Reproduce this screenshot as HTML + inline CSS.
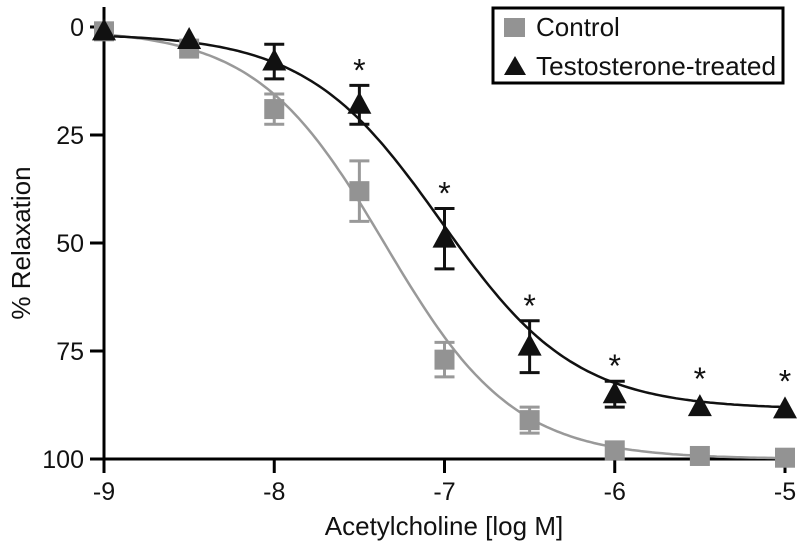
<!DOCTYPE html>
<html><head><meta charset="utf-8"><style>
body{margin:0;background:#fff;}
svg{display:block;font-family:"Liberation Sans",Arial,sans-serif;}
</style></head><body>
<svg id="chart" width="800" height="550"></svg>
<script>
const xTicks=[-9,-8,-7,-6,-5];
const yTicks=[0,25,50,75,100];
const doses=[-9,-8.5,-8,-7.5,-7,-6.5,-6,-5.5,-5];
const controlVals=[1,5,19,38,77,91,98,99.3,99.7];
const controlErr=[0,0,3.5,7,4,3,0,0,0];
const testoVals=[1,3,8,18,49,74,85,88,88.5];
const testoErr=[0,0,4,4.5,7,6,3,0,0];
const testoSig=[false,false,false,true,true,true,true,true,true];
const controlFit={bottom:0.5,top:100,ec50:-7.35,hill:1.15};
const testoFit={bottom:1.5,top:88.5,ec50:-7.02,hill:1.1};

const NS='http://www.w3.org/2000/svg';
const svg=document.getElementById('chart');
const X0=104,X1=785,Y0=27,Y1=459;
const xs=v=>X0+(v-(-9))/4*(X1-X0);
const ys=v=>Y0+v/100*(Y1-Y0);
function mk(tag,attrs,parent){const e=document.createElementNS(NS,tag);for(const k in attrs)e.setAttribute(k,attrs[k]);(parent||svg).appendChild(e);return e;}

const axes=mk('g',{});


const ya=mk('line',{x1:X0,y1:7,x2:X0,y2:Y1+14,stroke:'#000','stroke-width':3},axes);


const xa=mk('line',{x1:90,y1:Y1,x2:X1+2,y2:Y1,stroke:'#000','stroke-width':3},axes);


xTicks.forEach(t=>{
  const tk=mk('line',{x1:xs(t),y1:Y1,x2:xs(t),y2:Y1+14,stroke:'#000','stroke-width':3},axes);
  
  
  const tx=mk('text',{x:xs(t),y:Y1+41,'font-size':25,'text-anchor':'middle',fill:'#111'},axes);
  tx.textContent=t;
  
  
});
yTicks.forEach(t=>{
  const tk=mk('line',{x1:90,y1:ys(t),x2:X0,y2:ys(t),stroke:'#000','stroke-width':3},axes);
  
  
  const tx=mk('text',{x:84,y:ys(t)+9,'font-size':25,'text-anchor':'end',fill:'#111'},axes);
  tx.textContent=t;
  
  
});
const xt=mk('text',{x:444,y:535,'font-size':26,'text-anchor':'middle',fill:'#111'});
xt.textContent='Acetylcholine [log M]';


const yt=mk('text',{x:0,y:0,'font-size':26,'text-anchor':'middle',fill:'#111',transform:'translate(30,243) rotate(-90)'});
yt.textContent='% Relaxation';



function curve(p,color,name){
  let d='';
  for(let i=0;i<=200;i++){const x=-9+4*i/200;const y=p.bottom+(p.top-p.bottom)/(1+Math.pow(10,(p.ec50-x)*p.hill));d+=(i?'L':'M')+xs(x).toFixed(1)+','+ys(y).toFixed(1);}
  const pa=mk('path',{d:d,fill:'none',stroke:color,'stroke-width':2.5});
  
  
}
curve(controlFit,'#999','control-fit-curve');
curve(testoFit,'#111','testosterone-fit-curve');

function errs(vals,err,color,name){
  vals.forEach((v,i)=>{
    if(!err[i])return;
    const g=mk('g',{stroke:color,'stroke-width':3});
    
    
    const x=xs(doses[i]),a=ys(v-err[i]),b=ys(v+err[i]);
    mk('line',{x1:x,y1:a,x2:x,y2:b},g);
    mk('line',{x1:x-10,y1:a,x2:x+10,y2:a},g);
    mk('line',{x1:x-10,y1:b,x2:x+10,y2:b},g);
  });
}
errs(controlVals,controlErr,'#999','control-error-bar');
errs(testoVals,testoErr,'#111','testosterone-error-bar');

controlVals.forEach((v,i)=>{
  const r=mk('rect',{x:xs(doses[i])-10,y:ys(v)-10,width:20,height:20,fill:'#939393'});
  
  
});
testoVals.forEach((v,i)=>{
  const x=xs(doses[i]),y=ys(v);
  const p=mk('polygon',{points:`${x},${y-13} ${x-12},${y+9} ${x+12},${y+9}`,fill:'#111'});
  
  
  if(testoSig[i]){
    const top=Math.min(ys(v-testoErr[i]),y-13);
    const s=mk('text',{x:x,y:top-4,'font-size':32,'text-anchor':'middle',fill:'#111'});
    s.textContent='*';
    
    
  }
});

const lg=mk('g',{});


mk('rect',{x:493,y:8,width:290,height:75,fill:'#fff',stroke:'#000','stroke-width':3},lg);
const l1=mk('g',{},lg);


mk('rect',{x:504,y:18,width:21,height:19,fill:'#939393'},l1);
const lt1=mk('text',{x:536,y:36,'font-size':26,fill:'#111'},l1);lt1.textContent='Control';
const l2=mk('g',{},lg);


mk('polygon',{points:'515,56 504,75 526,75',fill:'#111'},l2);
const lt2=mk('text',{x:536,y:75,'font-size':26,fill:'#111',textLength:240,lengthAdjust:'spacingAndGlyphs'},l2);lt2.textContent='Testosterone-treated';
</script>
</body></html>
